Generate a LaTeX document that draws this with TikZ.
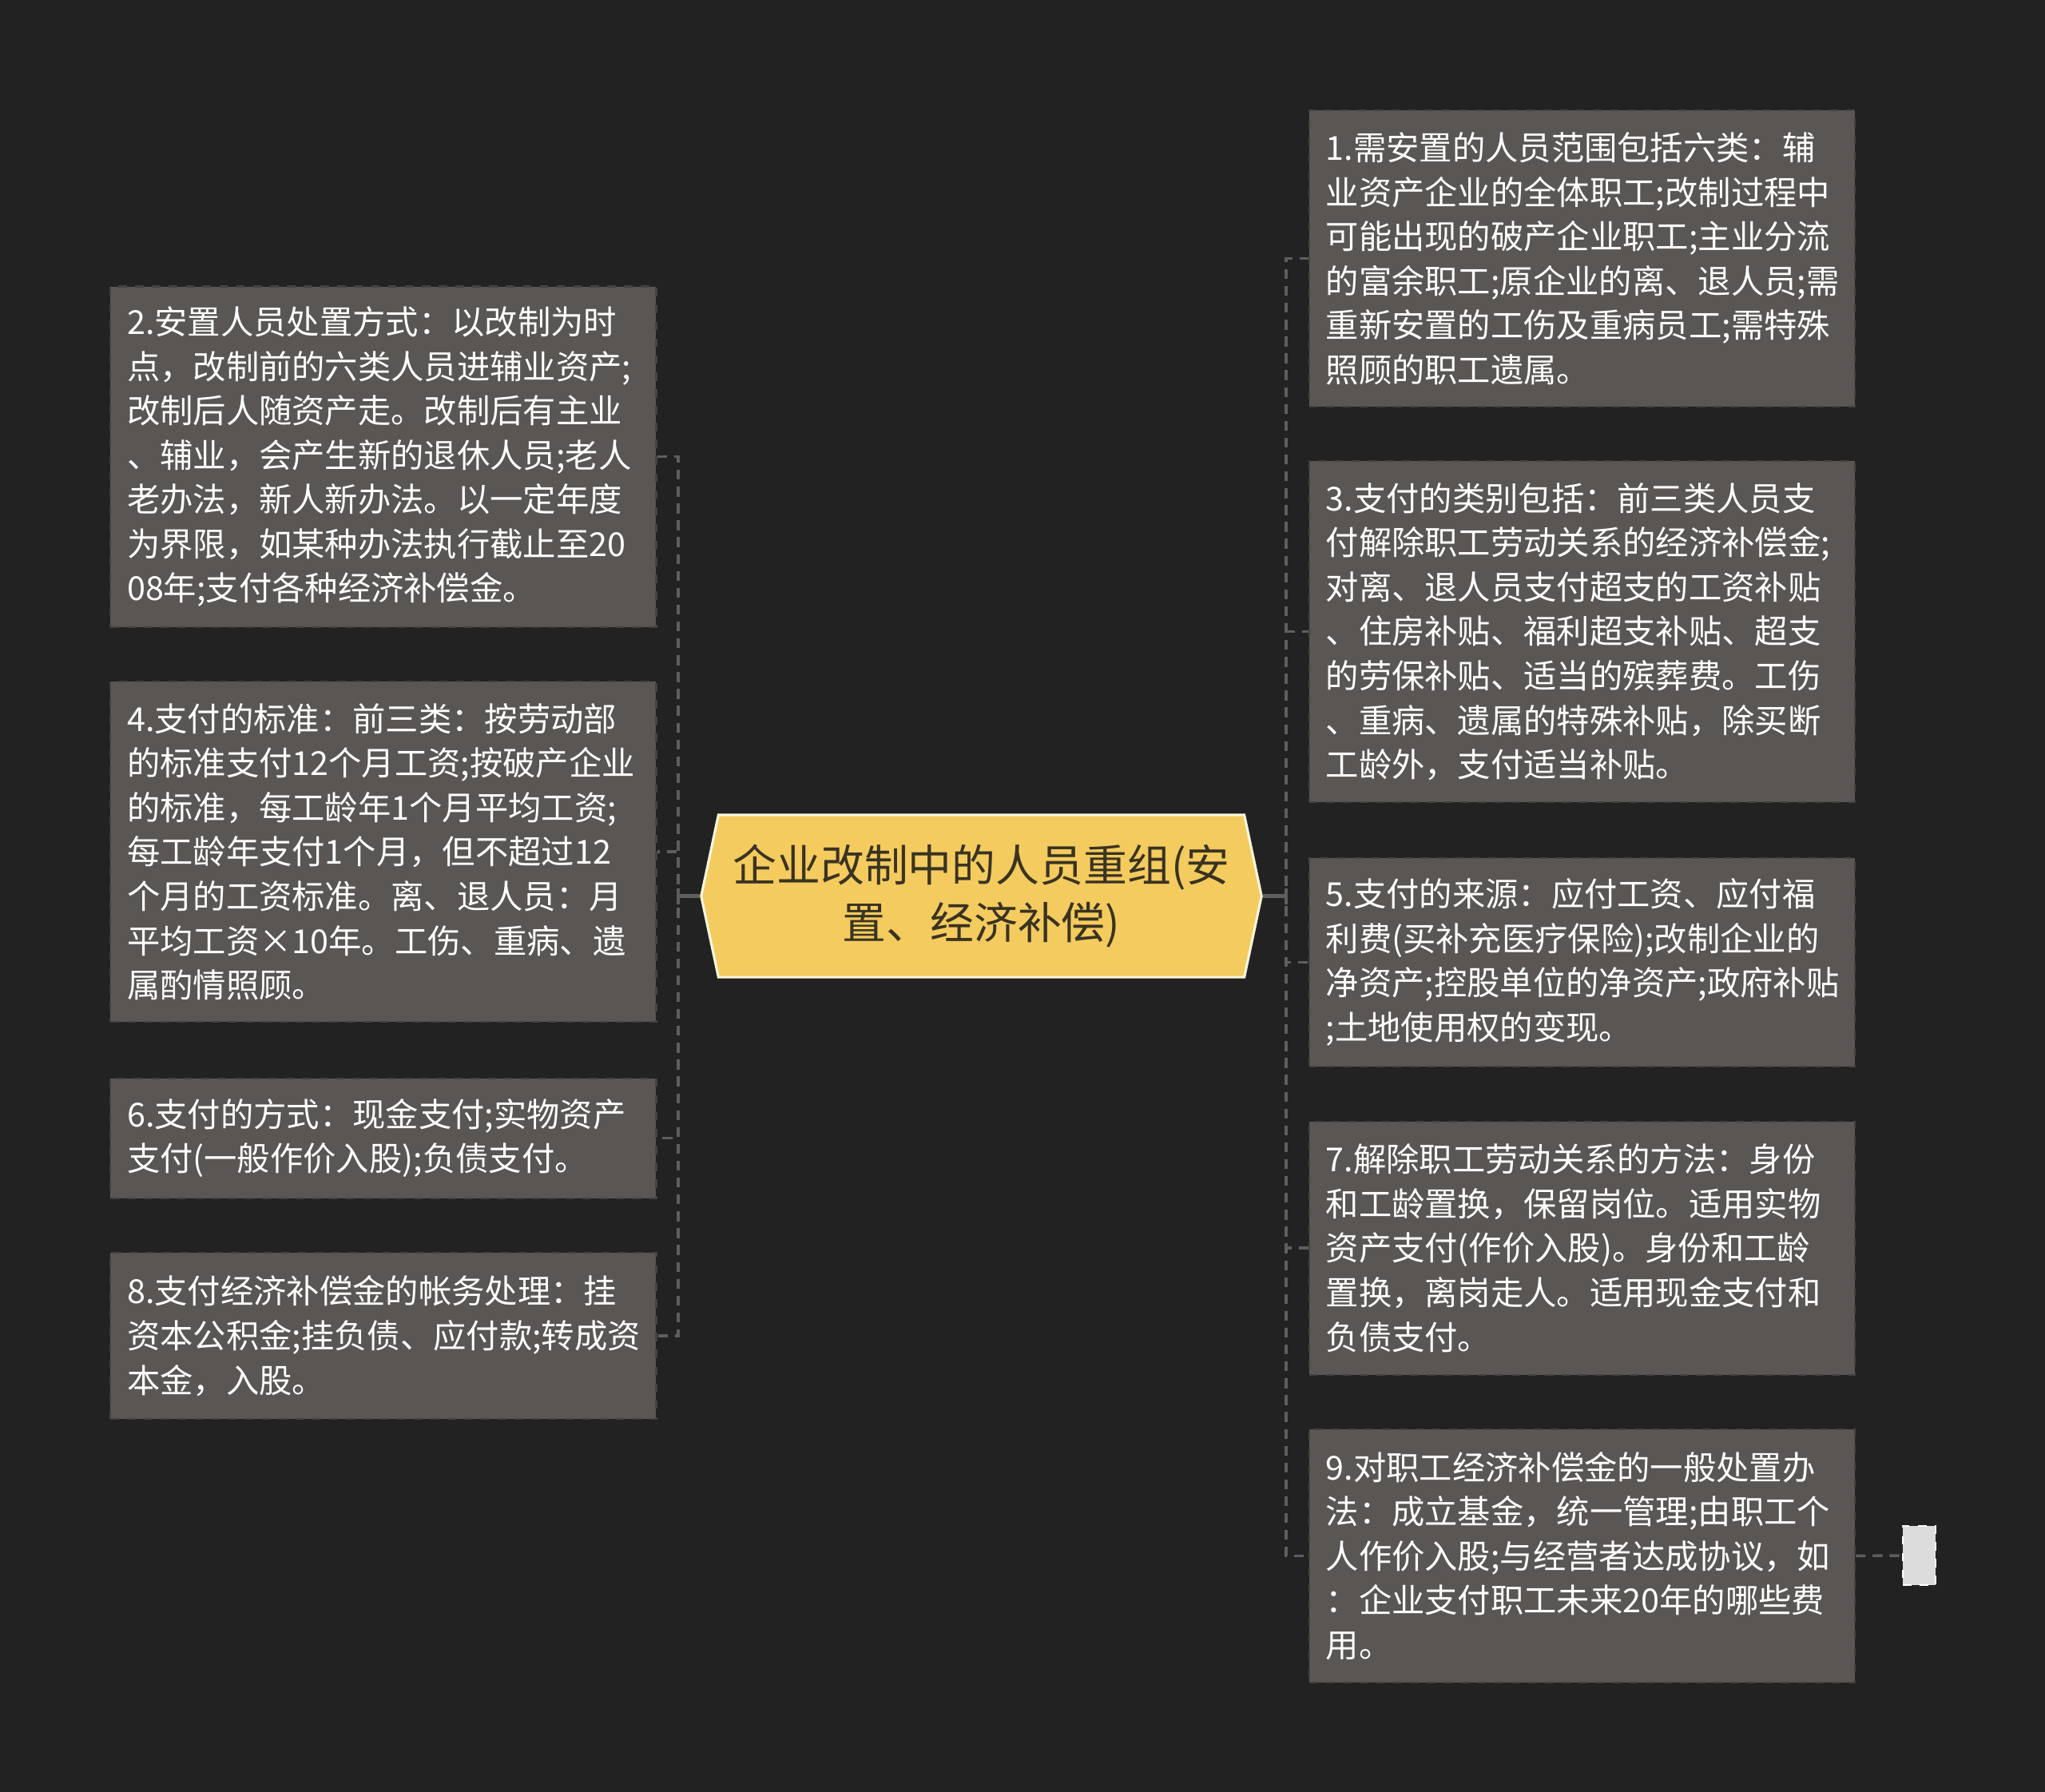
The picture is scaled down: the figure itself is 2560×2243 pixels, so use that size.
\documentclass[tikz,border=0pt]{standalone}
\usepackage{fontspec}
\setmainfont{Noto Sans CJK SC}
\usepackage{tikz}
\usetikzlibrary{shapes.symbols}
\definecolor{bgdark}{HTML}{222222}
\definecolor{rootfill}{HTML}{F4CB5E}
\definecolor{rootline}{HTML}{FAF5DC}
\definecolor{roottext}{HTML}{3A3322}
\definecolor{boxfill}{HTML}{595654}
\definecolor{boxline}{HTML}{45423F}
\definecolor{linegray}{HTML}{5E5E5E}
\definecolor{tailfill}{HTML}{DCDCDC}

\begin{document}
\begin{tikzpicture}[x=0.01cm, y=-0.01cm,
  topic/.style={signal, signal to=west and east, signal pointer angle=156,
    fill=rootfill, draw=rootline, line width=0.9pt, minimum width=7.01cm,
    minimum height=2.03cm, inner sep=0pt, align=center, text=roottext,
    font=\fontsize{15.6}{20.4}\selectfont},
  leaf/.style={rectangle, anchor=north west, fill=boxfill, draw=boxline,
    dashed, line width=0.6pt, text width=6.41cm, inner xsep=0.21cm,
    inner ysep=0pt, align=left, text=white,
    font=\fontsize{11.75}{15.8}\selectfont},
  tailbox/.style={rectangle, fill=tailfill, draw=white, dashed, line width=0.6pt,
    minimum width=0.41cm, minimum height=0.74cm, inner sep=0pt},
  link/.style={draw=linegray, line width=1pt, dash pattern=on 3.5pt off 2.5pt},
  stub/.style={draw=linegray, line width=1.2pt}]

  \fill[bgdark] (0,0) rectangle (2560,2243);

  \node[topic] (root) at (1228.5,1121.6) {企业改制中的人员重组(安\\置、经济补偿)};

  \node[leaf, minimum height=3.71cm] (n1) at (1637.6,137) {1.需安置的人员范围包括六类：辅\\业资产企业的全体职工;改制过程中\\可能出现的破产企业职工;主业分流\\的富余职工;原企业的离、退人员;需\\重新安置的工伤及重病员工;需特殊\\照顾的职工遗属。};
  \node[leaf, minimum height=4.26cm] (n2) at (137,357.5) {2.安置人员处置方式：以改制为时\\点，改制前的六类人员进辅业资产;\\改制后人随资产走。改制后有主业\\、辅业，会产生新的退休人员;老人\\老办法，新人新办法。以一定年度\\为界限，如某种办法执行截止至20\\08年;支付各种经济补偿金。};
  \node[leaf, minimum height=4.27cm] (n3) at (1637.6,576) {3.支付的类别包括：前三类人员支\\付解除职工劳动关系的经济补偿金;\\对离、退人员支付超支的工资补贴\\、住房补贴、福利超支补贴、超支\\的劳保补贴、适当的殡葬费。工伤\\、重病、遗属的特殊补贴，除买断\\工龄外，支付适当补贴。};
  \node[leaf, minimum height=4.26cm] (n4) at (137,852) {4.支付的标准：前三类：按劳动部\\的标准支付12个月工资;按破产企业\\的标准，每工龄年1个月平均工资;\\每工龄年支付1个月，但不超过12\\个月的工资标准。离、退人员：月\\平均工资×10年。工伤、重病、遗\\属酌情照顾。};
  \node[leaf, minimum height=2.61cm] (n5) at (1637.6,1072.7) {5.支付的来源：应付工资、应付福\\利费(买补充医疗保险);改制企业的\\净资产;控股单位的净资产;政府补贴\\;土地使用权的变现。};
  \node[leaf, minimum height=1.50cm] (n6) at (137,1348.6) {6.支付的方式：现金支付;实物资产\\支付(一般作价入股);负债支付。};
  \node[leaf, minimum height=3.17cm] (n7) at (1637.6,1402.5) {7.解除职工劳动关系的方法：身份\\和工龄置换，保留岗位。适用实物\\资产支付(作价入股)。身份和工龄\\置换，离岗走人。适用现金支付和\\负债支付。};
  \node[leaf, minimum height=2.08cm] (n8) at (137,1567) {8.支付经济补偿金的帐务处理：挂\\资本公积金;挂负债、应付款;转成资\\本金，入股。};
  \node[leaf, minimum height=3.17cm] (n9) at (1637.6,1787.8) {9.对职工经济补偿金的一般处置办\\法：成立基金，统一管理;由职工个\\人作价入股;与经营者达成协议，如\\：企业支付职工未来20年的哪些费\\用。};
  \node[tailbox] (tail) at (2402.5,1947) {};

  \draw[link] (root.west) -- ++(-27.4,0) |- (n2.east);
  \draw[link] (root.west) -- ++(-27.4,0) |- (n4.east);
  \draw[link] (root.west) -- ++(-27.4,0) |- (n6.east);
  \draw[link] (root.west) -- ++(-27.4,0) |- (n8.east);
  \draw[link] (root.east) -- ++(29.4,0) |- (n1.west);
  \draw[link] (root.east) -- ++(29.4,0) |- (n3.west);
  \draw[link] (root.east) -- ++(29.4,0) |- (n5.west);
  \draw[link] (root.east) -- ++(29.4,0) |- (n7.west);
  \draw[link] (root.east) -- ++(29.4,0) |- (n9.west);
  \draw[stub] (root.west) -- ++(-27.4,0) ++(0,-10) -- ++(0,20);
  \draw[stub] (root.east) -- ++(29.4,0) ++(0,-10) -- ++(0,20);
  \draw[link] (n9.east) -- (tail.west);
\end{tikzpicture}
\end{document}
